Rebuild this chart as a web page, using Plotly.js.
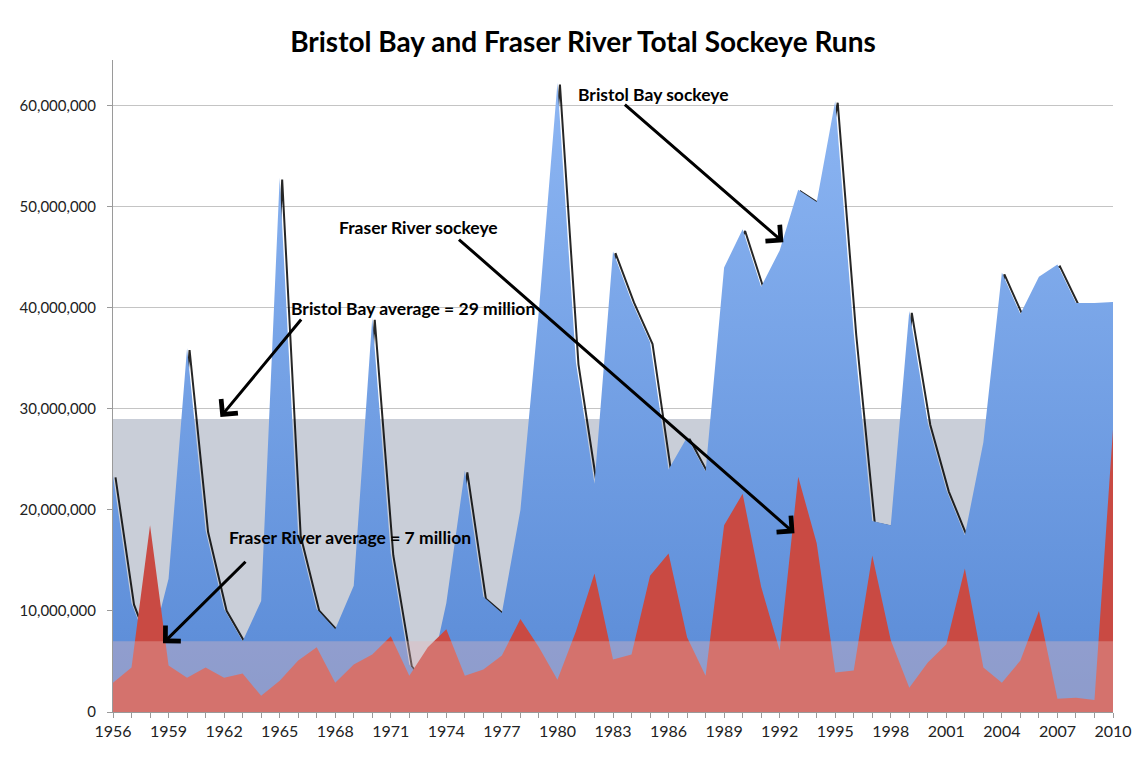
<!DOCTYPE html>
<html>
<head>
<meta charset="utf-8">
<script src="https://cdn.plot.ly/plotly-3.0.1.min.js"></script>
<style>
  html, body { margin: 0; padding: 0; background: #ffffff; }
  #chart { width: 1143px; height: 782px; }
</style>
</head>
<body>
<div id="chart"></div>
<script>
// Return years on the x axis
const years = [1956, 1957, 1958, 1959, 1960, 1961, 1962, 1963, 1964, 1965,
               1966, 1967, 1968, 1969, 1970, 1971, 1972, 1973, 1974, 1975,
               1976, 1977, 1978, 1979, 1980, 1981, 1982, 1983, 1984, 1985,
               1986, 1987, 1988, 1989, 1990, 1991, 1992, 1993, 1994, 1995,
               1996, 1997, 1998, 1999, 2000, 2001, 2002, 2003, 2004, 2005,
               2006, 2007, 2008, 2009, 2010];

// Total sockeye runs, millions of fish
const bristolBayMillions = [23.4, 10.8, 6.0, 13.2, 36.0, 18.0, 10.2, 7.0, 11.0, 52.9,
                            17.6, 10.2, 8.2, 12.5, 39.0, 15.7, 4.7, 2.4, 10.8, 23.9,
                            11.4, 9.8, 20.0, 39.8, 62.3, 34.6, 22.6, 45.6, 40.7, 36.6,
                            24.0, 27.2, 23.8, 44.0, 47.8, 42.1, 45.7, 51.7, 50.5, 60.5,
                            37.5, 18.9, 18.5, 39.7, 28.6, 22.0, 17.5, 26.7, 43.5, 39.4,
                            43.1, 44.3, 40.5, 40.5, 40.6];

const fraserRiverMillions = [2.9, 4.4, 18.5, 4.6, 3.4, 4.4, 3.4, 3.8, 1.6, 3.1,
                             5.1, 6.4, 2.9, 4.7, 5.7, 7.5, 3.6, 6.4, 8.2, 3.6,
                             4.2, 5.6, 9.2, 6.4, 3.2, 8.0, 13.7, 5.2, 5.7, 13.5,
                             15.7, 7.4, 3.6, 18.5, 21.6, 12.4, 6.1, 23.3, 16.7, 3.9,
                             4.1, 15.5, 7.1, 2.4, 4.9, 6.7, 14.2, 4.4, 2.9, 5.1,
                             10.0, 1.3, 1.4, 1.2, 28.0];

// Long-run averages, millions of fish
const bristolBayAverageMillions = 29;
const fraserRiverAverageMillions = 7;

const MILLION = 1e6;
const bristolBay = bristolBayMillions.map(v => v * MILLION);
const fraserRiver = fraserRiverMillions.map(v => v * MILLION);
const bristolBayAverage = years.map(() => bristolBayAverageMillions * MILLION);
const fraserRiverAverage = years.map(() => fraserRiverAverageMillions * MILLION);

const FONT = "Lato, 'Open Sans', 'DejaVu Sans', sans-serif";

// Plot frame in pixels
const W = 1143, H = 782;
const M = { l: 113, r: 30, t: 60, b: 70 };
const plotW = W - M.l - M.r;
const plotH = H - M.t - M.b;
const xRange = [1956, 2010];
const yRange = [0, 64.55e6];

// Drop shadow of the Bristol Bay outline: same data, nudged right and down
const shadowDx = 2.5 * (xRange[1] - xRange[0]) / plotW;
const shadowDy = 1.8 * (yRange[1] - yRange[0]) / plotH;

const traces = [
  {
    // Bristol Bay average band
    x: years, y: bristolBayAverage,
    type: 'scatter', mode: 'none', fill: 'tozeroy',
    fillcolor: '#c9ced8',
    xaxis: 'x', yaxis: 'y', hoverinfo: 'skip'
  },
  {
    // Shadow under the Bristol Bay outline
    x: years, y: bristolBay,
    type: 'scatter', mode: 'lines',
    line: { color: 'rgba(0,0,0,0.85)', width: 2 },
    xaxis: 'x2', yaxis: 'y2', hoverinfo: 'skip'
  },
  {
    x: years, y: bristolBay,
    name: 'Bristol Bay sockeye',
    type: 'scatter', mode: 'none', fill: 'tozeroy',
    fillgradient: {
      type: 'vertical',
      colorscale: [[0, '#598ad6'], [1, '#8db6f3']]
    },
    xaxis: 'x3', yaxis: 'y3', hoverinfo: 'skip'
  },
  {
    x: years, y: fraserRiver,
    name: 'Fraser River sockeye',
    type: 'scatter', mode: 'none', fill: 'tozeroy',
    fillcolor: '#c94a43',
    xaxis: 'x3', yaxis: 'y3', hoverinfo: 'skip'
  },
  {
    // Fraser River average band
    x: years, y: fraserRiverAverage,
    type: 'scatter', mode: 'none', fill: 'tozeroy',
    fillcolor: 'rgba(232,186,186,0.36)',
    xaxis: 'x3', yaxis: 'y3', hoverinfo: 'skip'
  }
];

const hiddenAxis = { visible: false, showgrid: false, zeroline: false, fixedrange: true };

function arrow(x, y, ax, ay) {
  return {
    x: x, y: y, xref: 'x', yref: 'y',
    ax: ax, ay: ay, axref: 'pixel', ayref: 'pixel',
    text: '', showarrow: true,
    arrowhead: 4, arrowsize: 1.4, arrowwidth: 3, arrowcolor: '#000000'
  };
}

function label(text, x, y) {
  return {
    x: x, y: y, xref: 'x', yref: 'y',
    text: text, showarrow: false,
    xanchor: 'center', yanchor: 'middle',
    font: { family: FONT, size: 17.5, color: '#000000', weight: 'bold' }
  };
}

const layout = {
  width: W, height: H,
  margin: M,
  paper_bgcolor: '#ffffff',
  plot_bgcolor: 'rgba(0,0,0,0)',
  showlegend: false,
  hovermode: false,
  title: {
    text: 'Bristol Bay and Fraser River Total Sockeye Runs',
    x: 0.51, xanchor: 'center',
    y: 1 - 42 / H, yanchor: 'middle',
    font: { family: FONT, size: 28, color: '#000000', weight: 'bold' }
  },
  xaxis: {
    range: xRange, fixedrange: true,
    tick0: 1956, dtick: 3,
    ticks: 'outside', ticklen: 5, tickcolor: '#9a9a9a',
    minor: { dtick: 1, ticks: 'outside', ticklen: 5, tickcolor: '#9a9a9a' },
    showline: true, linecolor: '#9a9a9a', linewidth: 1,
    showgrid: false, zeroline: false,
    tickfont: { family: FONT, size: 16, color: '#222222' }
  },
  yaxis: {
    range: yRange, fixedrange: true,
    tick0: 0, dtick: 10e6, tickformat: ',d',
    ticks: 'outside', ticklen: 5, tickcolor: '#9a9a9a',
    ticklabelstandoff: 8,
    showline: true, linecolor: '#9a9a9a', linewidth: 1,
    showgrid: true, gridcolor: '#c4c4c4', gridwidth: 1,
    zeroline: false,
    tickfont: { family: FONT, size: 15, color: '#222222' }
  },
  xaxis2: Object.assign({ overlaying: 'x', range: [xRange[0] - shadowDx, xRange[1] - shadowDx] }, hiddenAxis),
  yaxis2: Object.assign({ overlaying: 'y', range: [yRange[0] + shadowDy, yRange[1] + shadowDy] }, hiddenAxis),
  xaxis3: Object.assign({ overlaying: 'x', range: xRange }, hiddenAxis),
  yaxis3: Object.assign({ overlaying: 'y', range: yRange }, hiddenAxis),
  annotations: [
    label('Bristol Bay sockeye', 1985.2, 61.1e6),
    arrow(1992.2, 46.5e6, -160, -139),
    label('Fraser River sockeye', 1972.5, 48.0e6),
    arrow(1992.8, 17.7e6, -337, -295),
    label('Bristol Bay average = 29 million', 1972.2, 39.9e6),
    arrow(1961.8, 29.2e6, 82, -99),
    label('Fraser River average = 7 million', 1968.8, 17.3e6),
    arrow(1958.7, 6.8e6, 84, -83)
  ]
};

Plotly.newPlot('chart', traces, layout, { displayModeBar: false, staticPlot: true, responsive: false });
</script>
</body>
</html>
